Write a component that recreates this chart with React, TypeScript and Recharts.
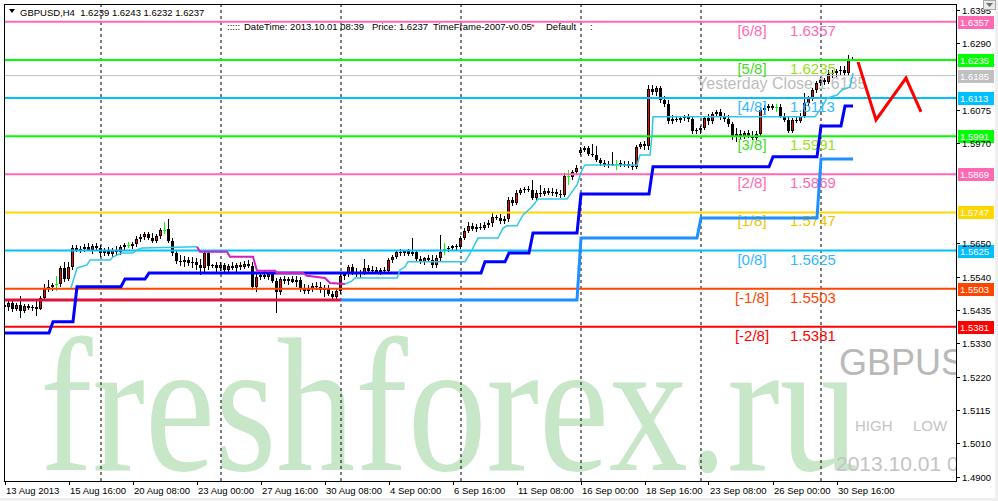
import React from "react"
import { ComposedChart, Bar, Line, XAxis, YAxis, ReferenceLine } from "recharts"

// GBPUSD H4, one entry per bar, 13 Aug 2013 00:00 .. 1 Oct 2013 08:00
const OPEN = [
  1.5451, 1.5445, 1.5457, 1.5438, 1.5451, 1.5432, 1.5448, 1.5441, 1.5445, 1.5438,
  1.5473, 1.5502, 1.5509, 1.5518, 1.5518, 1.5569, 1.5534, 1.5573, 1.5633, 1.5627,
  1.563, 1.5637, 1.5627, 1.564, 1.5633, 1.5617, 1.5624, 1.5614, 1.5627, 1.5621,
  1.5637, 1.5643, 1.564, 1.5646, 1.5662, 1.5669, 1.5678, 1.5665, 1.5656, 1.5672,
  1.5691, 1.5694, 1.5656, 1.5617, 1.5592, 1.5589, 1.5595, 1.5585, 1.5589, 1.5579,
  1.5569, 1.5617, 1.5576, 1.5579, 1.5569, 1.5579, 1.5563, 1.5576, 1.5569, 1.5579,
  1.5573, 1.5582, 1.5576, 1.5509, 1.5541, 1.5547, 1.5541, 1.555, 1.5528, 1.5493,
  1.5534, 1.5528, 1.5534, 1.5525, 1.5531, 1.5505, 1.5496, 1.5502, 1.5512, 1.5509,
  1.5499, 1.5505, 1.5486, 1.5477, 1.5496, 1.5544, 1.555, 1.5573, 1.5557, 1.555,
  1.5553, 1.5569, 1.556, 1.5563, 1.5557, 1.5563, 1.556, 1.5595, 1.5605, 1.5621,
  1.5617, 1.5624, 1.5614, 1.5621, 1.5598, 1.5589, 1.5601, 1.5595, 1.5579, 1.5601,
  1.563, 1.563, 1.5633, 1.564, 1.5637, 1.5665, 1.5688, 1.5704, 1.5694, 1.5701,
  1.5697, 1.5707, 1.5713, 1.5733, 1.5729, 1.572, 1.5726, 1.5787, 1.5777, 1.5809,
  1.5819, 1.5822, 1.5819, 1.5793, 1.5809, 1.5806, 1.5816, 1.5809, 1.5813, 1.5806,
  1.5803, 1.5864, 1.5861, 1.5877, 1.5937, 1.5947, 1.5953, 1.5934, 1.5931, 1.5915,
  1.5905, 1.5899, 1.5902, 1.5902, 1.5905, 1.5899, 1.5902, 1.5896, 1.5893, 1.5957,
  1.5966, 1.596, 1.6142, 1.6133, 1.6145, 1.6107, 1.6094, 1.604, 1.6046, 1.6043,
  1.6049, 1.6053, 1.6046, 1.6008, 1.6011, 1.6017, 1.6049, 1.604, 1.6062, 1.6069,
  1.6053, 1.6046, 1.603, 1.5992, 1.5998, 1.5989, 1.6001, 1.5992, 1.5986, 1.5998,
  1.6075, 1.6081, 1.6088, 1.6085, 1.6085, 1.6056, 1.6043, 1.6008, 1.6043, 1.604,
  1.6056, 1.6097, 1.6113, 1.6139, 1.6161, 1.6171, 1.6165, 1.619, 1.6193, 1.62,
  1.6203, 1.6193, 1.6239,
]
const HIGH = [
  1.5457, 1.5464, 1.5464, 1.5457, 1.548, 1.5454, 1.5454, 1.5451, 1.5467, 1.548,
  1.5518, 1.5531, 1.5521, 1.5544, 1.5576, 1.5589, 1.5589, 1.5643, 1.5643, 1.564,
  1.5646, 1.5649, 1.5646, 1.5649, 1.5643, 1.5633, 1.5637, 1.5633, 1.564, 1.5643,
  1.5649, 1.5653, 1.5653, 1.5672, 1.5678, 1.5685, 1.5685, 1.5681, 1.5678, 1.5697,
  1.5717, 1.5726, 1.5665, 1.5627, 1.5611, 1.5608, 1.5605, 1.5605, 1.5601, 1.5598,
  1.5627, 1.5624, 1.5582, 1.5589, 1.5589, 1.5585, 1.5582, 1.5589, 1.5585, 1.5589,
  1.5592, 1.5595, 1.5589, 1.555, 1.5557, 1.556, 1.5557, 1.5557, 1.5537, 1.5541,
  1.5544, 1.5541, 1.5544, 1.5544, 1.5541, 1.5518, 1.5515, 1.5521, 1.5525, 1.5525,
  1.5515, 1.5515, 1.5496, 1.5502, 1.555, 1.5557, 1.5579, 1.5582, 1.5569, 1.5563,
  1.5598, 1.5579, 1.5576, 1.5573, 1.5569, 1.5573, 1.5601, 1.5611, 1.5627, 1.563,
  1.5627, 1.563, 1.5665, 1.5627, 1.5608, 1.5605, 1.5611, 1.5611, 1.5611, 1.5675,
  1.5649, 1.564, 1.5643, 1.5646, 1.5672, 1.5697, 1.5717, 1.5713, 1.571, 1.5713,
  1.5717, 1.5723, 1.5745, 1.5739, 1.5742, 1.5736, 1.5797, 1.5797, 1.5819, 1.5825,
  1.5829, 1.5832, 1.5851, 1.5819, 1.5835, 1.5825, 1.5825, 1.5825, 1.5822, 1.5819,
  1.5873, 1.5883, 1.5883, 1.5899, 1.5957, 1.596, 1.596, 1.5966, 1.596, 1.5921,
  1.5915, 1.5912, 1.5941, 1.5915, 1.5915, 1.5912, 1.5912, 1.5909, 1.5963, 1.5973,
  1.5976, 1.6155, 1.6155, 1.6152, 1.6152, 1.612, 1.6107, 1.6059, 1.6056, 1.6053,
  1.6059, 1.6062, 1.6056, 1.6017, 1.6024, 1.6056, 1.6062, 1.6069, 1.6075, 1.6078,
  1.6065, 1.6059, 1.6037, 1.6017, 1.6011, 1.6008, 1.6011, 1.6008, 1.6008, 1.6085,
  1.6091, 1.6094, 1.6094, 1.6094, 1.6094, 1.6065, 1.6053, 1.6049, 1.6053, 1.6065,
  1.6129, 1.612, 1.6145, 1.6168, 1.6181, 1.6177, 1.6203, 1.6203, 1.6206, 1.6216,
  1.6216, 1.625, 1.6243,
]
const LOW = [
  1.5435, 1.5432, 1.5429, 1.5432, 1.5409, 1.5425, 1.5435, 1.5432, 1.5416, 1.5435,
  1.5467, 1.5493, 1.5496, 1.5496, 1.5509, 1.5525, 1.5528, 1.5563, 1.5621, 1.5617,
  1.5621, 1.5624, 1.5614, 1.5627, 1.5605, 1.5608, 1.5608, 1.5601, 1.5611, 1.5611,
  1.5627, 1.5633, 1.563, 1.5637, 1.5653, 1.5659, 1.5659, 1.5649, 1.5649, 1.5662,
  1.5678, 1.5649, 1.5608, 1.5582, 1.5576, 1.5573, 1.5576, 1.5569, 1.5563, 1.5547,
  1.5557, 1.5563, 1.5569, 1.5557, 1.556, 1.5557, 1.5553, 1.5563, 1.5557, 1.5563,
  1.5566, 1.5569, 1.5499, 1.5493, 1.5531, 1.5534, 1.5531, 1.5521, 1.5425, 1.5483,
  1.5518, 1.5515, 1.5521, 1.5509, 1.5493, 1.5486, 1.5486, 1.5493, 1.5499, 1.5489,
  1.5477, 1.548, 1.547, 1.5467, 1.5486, 1.5531, 1.5541, 1.5547, 1.5541, 1.5537,
  1.5547, 1.555, 1.555, 1.555, 1.5547, 1.5553, 1.555, 1.5585, 1.5598, 1.5608,
  1.5608, 1.5608, 1.5608, 1.5592, 1.5582, 1.5579, 1.5589, 1.5569, 1.5569, 1.5589,
  1.5611, 1.5621, 1.5624, 1.5627, 1.563, 1.5659, 1.5681, 1.5688, 1.5685, 1.5691,
  1.5691, 1.5697, 1.5701, 1.5723, 1.571, 1.571, 1.5717, 1.5768, 1.5771, 1.5803,
  1.5809, 1.5813, 1.5787, 1.5787, 1.5797, 1.58, 1.5803, 1.58, 1.5797, 1.5793,
  1.5797, 1.5835, 1.5851, 1.5867, 1.5931, 1.5941, 1.5928, 1.5925, 1.5909, 1.5896,
  1.5893, 1.5889, 1.5896, 1.5883, 1.5893, 1.5893, 1.5889, 1.5883, 1.5886, 1.595,
  1.5947, 1.5947, 1.6123, 1.612, 1.6097, 1.6085, 1.603, 1.603, 1.6037, 1.6033,
  1.604, 1.6037, 1.5998, 1.5998, 1.5998, 1.6011, 1.6027, 1.603, 1.6053, 1.6043,
  1.6037, 1.6021, 1.5979, 1.5973, 1.5979, 1.5982, 1.5986, 1.5979, 1.5979, 1.5992,
  1.6062, 1.6072, 1.6075, 1.6069, 1.6049, 1.6037, 1.6001, 1.6001, 1.6033, 1.6033,
  1.6049, 1.6088, 1.6104, 1.6129, 1.6152, 1.6155, 1.6158, 1.6177, 1.6181, 1.6187,
  1.6184, 1.6184, 1.6232,
]
const CLOSE = [
  1.5445, 1.5457, 1.5438, 1.5451, 1.5432, 1.5448, 1.5441, 1.5445, 1.5438, 1.5473,
  1.5502, 1.5509, 1.5515, 1.5518, 1.5569, 1.5534, 1.5573, 1.5633, 1.5627, 1.563,
  1.5637, 1.5627, 1.564, 1.5633, 1.5617, 1.5624, 1.5614, 1.5627, 1.5621, 1.5637,
  1.5643, 1.5643, 1.5646, 1.5662, 1.5669, 1.5678, 1.5665, 1.5656, 1.5672, 1.5691,
  1.5691, 1.5656, 1.5617, 1.5592, 1.5589, 1.5595, 1.5585, 1.5589, 1.5579, 1.5569,
  1.5617, 1.5576, 1.5579, 1.5569, 1.5579, 1.5563, 1.5576, 1.5569, 1.5579, 1.5573,
  1.5582, 1.5576, 1.5509, 1.5541, 1.5547, 1.5541, 1.555, 1.5528, 1.5493, 1.5534,
  1.5528, 1.5534, 1.5525, 1.5531, 1.5505, 1.5496, 1.5502, 1.5512, 1.5509, 1.5499,
  1.5505, 1.5486, 1.5477, 1.5496, 1.5544, 1.555, 1.5573, 1.5557, 1.555, 1.5553,
  1.5569, 1.556, 1.5563, 1.5557, 1.5563, 1.556, 1.5595, 1.5605, 1.5621, 1.5617,
  1.5624, 1.5614, 1.5621, 1.5598, 1.5589, 1.5601, 1.5595, 1.5579, 1.5601, 1.5621,
  1.563, 1.5633, 1.564, 1.5637, 1.5665, 1.5688, 1.5704, 1.5694, 1.5701, 1.5697,
  1.5707, 1.5713, 1.5733, 1.5729, 1.572, 1.5726, 1.5787, 1.5777, 1.5809, 1.5819,
  1.5822, 1.5819, 1.5793, 1.5809, 1.5806, 1.5816, 1.5809, 1.5813, 1.5806, 1.5803,
  1.5864, 1.5864, 1.5877, 1.5889, 1.5947, 1.5953, 1.5934, 1.5931, 1.5915, 1.5905,
  1.5899, 1.5902, 1.5899, 1.5902, 1.5899, 1.5902, 1.5896, 1.5893, 1.5957, 1.5966,
  1.596, 1.6142, 1.6133, 1.6145, 1.6107, 1.6094, 1.604, 1.6046, 1.6043, 1.6049,
  1.6053, 1.6046, 1.6008, 1.6011, 1.6017, 1.6049, 1.604, 1.6062, 1.6069, 1.6053,
  1.6046, 1.603, 1.5992, 1.5998, 1.5989, 1.6001, 1.5992, 1.5986, 1.5998, 1.6075,
  1.6081, 1.6088, 1.6081, 1.6085, 1.6056, 1.6043, 1.6008, 1.6043, 1.604, 1.6056,
  1.6097, 1.6113, 1.6139, 1.6161, 1.6171, 1.6165, 1.619, 1.6193, 1.62, 1.6203,
  1.6193, 1.6238, 1.6237,
]

// time axis: a label every 16 bars
const TIME_TICKS = [0, 16, 32, 48, 64, 80, 96, 112, 128, 144, 160, 176, 192, 208]
const TIME_LABELS = [
  "13 Aug 2013", "15 Aug 16:00", "20 Aug 08:00", "23 Aug 00:00", "27 Aug 16:00",
  "30 Aug 08:00", "4 Sep 00:00", "6 Sep 16:00", "11 Sep 08:00", "16 Sep 00:00",
  "18 Sep 16:00", "23 Sep 08:00", "26 Sep 00:00", "30 Sep 16:00",
]
// weekly separators (Monday 00:00 bars)
const WEEK_BARS = [24, 54, 84, 114, 144, 174, 204]

const PRICE_TICKS = [
  1.6395, 1.629, 1.6185, 1.6075, 1.597, 1.586, 1.5755, 1.565, 1.554, 1.5435,
  1.533, 1.522, 1.5115, 1.501, 1.49,
]

// Murrey math levels
const LEVEL_NAMES = ["[6/8]", "[5/8]", "[4/8]", "[3/8]", "[2/8]", "[1/8]", "[0/8]", "[-1/8]", "[-2/8]"]
const LEVEL_VALUES = [1.6357, 1.6235, 1.6113, 1.5991, 1.5869, 1.5747, 1.5625, 1.5503, 1.5381]
const YESTERDAY_CLOSE = 1.6185

// indicator lines: [bar, price]
const TRAIL_UP: [number, number][] = [
  [16.5, 1.5505], [18, 1.5569], [20.5, 1.5579], [21.25, 1.5595], [26.25, 1.5595], [27, 1.5605],
  [29.25, 1.5617], [32, 1.5617], [33, 1.5627], [34.25, 1.5633], [48, 1.5637],
]
const TRAIL_DOWN: [number, number][] = [
  [48, 1.5637], [48.75, 1.5621], [55.5, 1.5621], [56.25, 1.5605], [62, 1.5605], [63, 1.556],
  [67.5, 1.556], [68, 1.5553], [74.5, 1.5553], [75.5, 1.5544], [80, 1.5537], [81.25, 1.5521],
  [85, 1.5518],
]
const TRAIL_UP_2: [number, number][] = [
  [85, 1.5518], [86.75, 1.5528], [87.5, 1.5537], [98, 1.5537], [98.75, 1.5563], [100, 1.5573],
  [100.75, 1.5589], [115, 1.5589], [116.75, 1.5627], [118.25, 1.5665], [123.25, 1.5665],
  [124.5, 1.5697], [125.5, 1.5704], [128, 1.5704], [129.5, 1.5739], [131.75, 1.5765],
  [133.25, 1.579], [140.5, 1.579], [141.75, 1.5813], [143, 1.5835], [144.25, 1.5883],
  [145, 1.5899], [158, 1.5899], [158.75, 1.5931], [161.25, 1.5931], [161.75, 1.5995],
  [162, 1.6053], [202.5, 1.6053], [204.25, 1.6085], [205.5, 1.6113], [208, 1.6123],
  [209.25, 1.6139], [211.25, 1.6149], [212, 1.6193],
]
const STEP_FAST: [number, number][] = [
  [0, 1.5361], [11, 1.5361], [12, 1.5397], [17, 1.5397], [18, 1.5509], [29, 1.5509],
  [30, 1.5534], [35, 1.5534], [36, 1.5553], [119, 1.5553], [120, 1.5589], [125, 1.5589],
  [126, 1.5617], [131, 1.5617], [132, 1.5681], [143, 1.5681], [144, 1.5806], [161, 1.5806],
  [162, 1.5893], [191, 1.5893], [192, 1.5925], [203, 1.5925], [204, 1.6024], [209, 1.6024],
  [210, 1.6088], [212, 1.6088],
]
const STEP_SLOW_DOWN: [number, number][] = [[0, 1.5467], [84, 1.5467]]
const STEP_SLOW: [number, number][] = [
  [84, 1.5467], [143, 1.5467], [144, 1.5665], [173, 1.5665], [174, 1.5729], [203, 1.5729],
  [204, 1.5918], [212, 1.5918],
]
const FORECAST: [number, number][] = [[213.25, 1.6229], [217.75, 1.6043], [225.25, 1.6177], [229, 1.6069]]

const FONT = "'Liberation Sans', Arial, sans-serif"
const LEVEL_LINE = ["#FF69B4", "#00FF00", "#00BFFF", "#00FF00", "#FF69B4", "#FFD700", "#00BFFF", "#FF4500", "#FF0000"]
const LEVEL_NAME_COLOR = ["#FF69B4", "#44DD22", "#33B8FF", "#44DD22", "#FF69B4", "#F2C200", "#33B8FF", "#FF4500", "#FF0000"]
const LEVEL_VALUE_COLOR = ["#FF69B4", "#99E020", "#33B8FF", "#99E020", "#FF69B4", "#F2C200", "#33B8FF", "#FF4500", "#FF0000"]

const pts = (a: [number, number][]) => a.map(([i, v]) => ({ i, v }))
const boxed = [...LEVEL_VALUES, YESTERDAY_CLOSE]

function Candle(props: any) {
  const { x, y, width, height, payload } = props
  if (!payload) return null
  const { open, high, low, close } = payload
  const top = Math.min(y, y + height)
  const h = Math.abs(height)
  const span = high - low
  const py = (p: number) => (span > 0 ? top + ((high - p) / span) * h : top)
  const cx = Math.floor(x + width / 2)
  const yH = Math.round(top)
  const yL = Math.max(yH + 1, Math.round(top + h))
  const yO = Math.round(py(open))
  const yC = Math.round(py(close))
  if (open === close) {
    return (
      <g>
        <rect x={cx} y={yH} width={1} height={yL - yH} fill="#00FF00" />
        <rect x={cx - 1} y={yO} width={3} height={1} fill="#00FF00" />
      </g>
    )
  }
  const bt = Math.min(yO, yC)
  const bb = Math.max(yO, yC, bt + 1)
  return (
    <g>
      <rect x={cx} y={yH} width={1} height={yL - yH} fill="#000" />
      <rect x={cx - 1} y={bt} width={3} height={bb - bt} fill="#000" />
      {close > open && bb - bt > 2 && <rect x={cx} y={bt + 1} width={1} height={bb - bt - 2} fill="#FF0000" />}
    </g>
  )
}

function TimeTick(props: any) {
  const { x, y, payload } = props
  const k = TIME_TICKS.indexOf(payload.value)
  return (
    <g>
      <rect x={Math.floor(x)} y={y} width={1} height={4} fill="#000" />
      <text x={x + 1} y={y + 13} fontSize={9.5} fontFamily={FONT} fill="#000">
        {TIME_LABELS[k]}
      </text>
    </g>
  )
}

function PriceTick(props: any) {
  const { x, y, payload } = props
  // labels hidden under a level price box are not drawn
  if (boxed.some((b) => Math.abs(b - payload.value) < 0.0015)) return null
  return (
    <g>
      <rect x={x + 1} y={Math.round(y)} width={3} height={1} fill="#000" />
      <text x={x + 6} y={y + 4} fontSize={9.5} fontFamily={FONT} fill="#000">
        {payload.value.toFixed(4)}
      </text>
    </g>
  )
}

function PriceBox({ viewBox, value, color }: any) {
  if (!viewBox) return null
  const { x, y, width } = viewBox
  return (
    <g>
      <rect x={x + width + 2} y={Math.round(y) - 6} width={36} height={13} fill={color} />
      <text x={x + width + 4} y={Math.round(y) + 4} fontSize={9.5} fontFamily={FONT} fill="#fff">
        {value.toFixed(4)}
      </text>
    </g>
  )
}

function LevelTag({ viewBox, k }: any) {
  if (!viewBox) return null
  const { x, y, width } = viewBox
  return (
    <g>
      <text x={x + width * 0.7855} y={y + 14} fontSize={15} fontFamily={FONT} fill={LEVEL_NAME_COLOR[k]} textAnchor="middle">
        {LEVEL_NAMES[k]}
      </text>
      <text x={x + width * 0.8254} y={y + 14} fontSize={15} fontFamily={FONT} fill={LEVEL_VALUE_COLOR[k]}>
        {LEVEL_VALUES[k].toFixed(4)}
      </text>
      <PriceBox viewBox={viewBox} value={LEVEL_VALUES[k]} color={LEVEL_LINE[k]} />
    </g>
  )
}

function CloseTag({ viewBox }: any) {
  if (!viewBox) return null
  const { x, y, width } = viewBox
  return (
    <g>
      <text x={x + width * 0.7277} y={y + 13} fontSize={16} fontFamily={FONT} fill="#BDBDBD">
        Yesterday Close {YESTERDAY_CLOSE.toFixed(4)}
      </text>
      <PriceBox viewBox={viewBox} value={YESTERDAY_CLOSE} color="#C0C0C0" />
    </g>
  )
}

export default function App() {
  const candles = OPEN.map((o, i) => ({ i, open: o, high: HIGH[i], low: LOW[i], close: CLOSE[i] }))
  return (
    <div style={{ position: "absolute", left: 0, top: 0, width: 998, height: 501, background: "#EFEFEF" }}>
      <div style={{ position: "absolute", left: 0, top: 0, width: 995, height: 498, background: "#fff" }} />
      <svg width={998} height={501} style={{ position: "absolute", left: 0, top: 0 }}>
        <defs>
          <clipPath id="plotclip">
            <rect x={5} y={5} width={951} height={476} />
          </clipPath>
        </defs>
        <g clipPath="url(#plotclip)">
          <text x={40} y={470} fontSize={190} fontFamily="'Liberation Serif', serif" fill="#C8E6C8" transform="translate(40 470) scale(0.83 1) translate(-40 -470)">
            freshforex.ru
          </text>
          <text x={839} y={375} fontSize={36} fontFamily={FONT} fill="#B9B9B9">GBPUSD</text>
          <text x={855} y={431} fontSize={15} fontFamily={FONT} fill="#C4C4C4">HIGH</text>
          <text x={913} y={431} fontSize={15} fontFamily={FONT} fill="#C4C4C4">LOW</text>
          <text x={836} y={471} fontSize={21} fontFamily={FONT} fill="#C4C4C4">2013.10.01 00:00</text>
        </g>
      </svg>
      <div style={{ position: "absolute", left: 0, top: 0 }}>
        <ComposedChart width={998} height={501} data={candles} margin={{ top: 5, right: 0, bottom: 0, left: 5 }}>
          <XAxis dataKey="i" type="number" domain={[0, 237.75]} allowDataOverflow ticks={TIME_TICKS} interval={0}
            tick={<TimeTick />} tickLine={false} axisLine={false} tickSize={0} tickMargin={0} height={20} />
          <YAxis orientation="right" type="number" domain={[1.48873, 1.6411]} allowDataOverflow ticks={PRICE_TICKS} interval={0}
            tick={<PriceTick />} tickLine={false} axisLine={false} tickSize={0} tickMargin={0} width={42} />
          {WEEK_BARS.map((b) => (
            <ReferenceLine key={b} x={b} stroke="#000" strokeDasharray="3 3" strokeWidth={1} />
          ))}
          <ReferenceLine y={YESTERDAY_CLOSE} stroke="#C0C0C0" strokeWidth={1} ifOverflow="visible" label={<CloseTag />} />
          {LEVEL_VALUES.map((v, k) => (
            <ReferenceLine key={v} y={v} stroke={LEVEL_LINE[k]} strokeWidth={2} ifOverflow="visible" label={<LevelTag k={k} />} />
          ))}
          <Bar dataKey={(d: any) => [d.low, d.high]} barSize={3} shape={<Candle />} isAnimationActive={false} />
          <Line data={pts(STEP_SLOW_DOWN)} dataKey="v" type="linear" dot={false} stroke="#DC143C" strokeWidth={3} isAnimationActive={false} />
          <Line data={pts(STEP_SLOW)} dataKey="v" type="linear" dot={false} stroke="#1E90FF" strokeWidth={3} isAnimationActive={false} />
          <Line data={pts(STEP_FAST)} dataKey="v" type="linear" dot={false} stroke="#0000FF" strokeWidth={3} isAnimationActive={false} />
          <Line data={pts(TRAIL_UP)} dataKey="v" type="linear" dot={false} stroke="#30C8E8" strokeWidth={1.5} isAnimationActive={false} />
          <Line data={pts(TRAIL_DOWN)} dataKey="v" type="linear" dot={false} stroke="#D020C0" strokeWidth={2} isAnimationActive={false} />
          <Line data={pts(TRAIL_UP_2)} dataKey="v" type="linear" dot={false} stroke="#30C8E8" strokeWidth={1.5} isAnimationActive={false} />
          <Line data={pts(FORECAST)} dataKey="v" type="linear" dot={false} stroke="#FF0000" strokeWidth={3} isAnimationActive={false} />
        </ComposedChart>
      </div>
      <svg width={998} height={501} style={{ position: "absolute", left: 0, top: 0, pointerEvents: "none" }}>
        <rect x={4.5} y={4.5} width={952} height={477} fill="none" stroke="#000" strokeWidth={1} />
        <polygon points="9,9 15,9 12,13" fill="#000" />
        <text x={20} y={16} fontSize={9.5} fontFamily={FONT} fill="#000" style={{ whiteSpace: "pre" }}>
          {"GBPUSD,H4  1.6239 1.6243 1.6232 1.6237"}
        </text>
        <text x={227} y={30} fontSize={9.5} fontFamily={FONT} fill="#000">:::::</text>
        <text x={244} y={30} fontSize={9.5} fontFamily={FONT} fill="#000">DateTime: 2013.10.01 08:39</text>
        <text x={372} y={30} fontSize={9.5} fontFamily={FONT} fill="#000">Price: 1.6237</text>
        <text x={433} y={30} fontSize={9.5} fontFamily={FONT} fill="#000">TimeFrame-2007-v0.05</text>
        <text x={531} y={30} fontSize={9.5} fontFamily={FONT} fill="#FF0000">*</text>
        <text x={546} y={30} fontSize={9.5} fontFamily={FONT} fill="#000">Default</text>
        <text x={590} y={30} fontSize={9.5} fontFamily={FONT} fill="#000">:</text>
        <rect x={983.5} y={0.5} width={12} height={9} fill="#E8E8E8" stroke="#A8A8A8" />
        <polygon points="986,3 993,3 989.5,7" fill="#707070" />
      </svg>
    </div>
  )
}
